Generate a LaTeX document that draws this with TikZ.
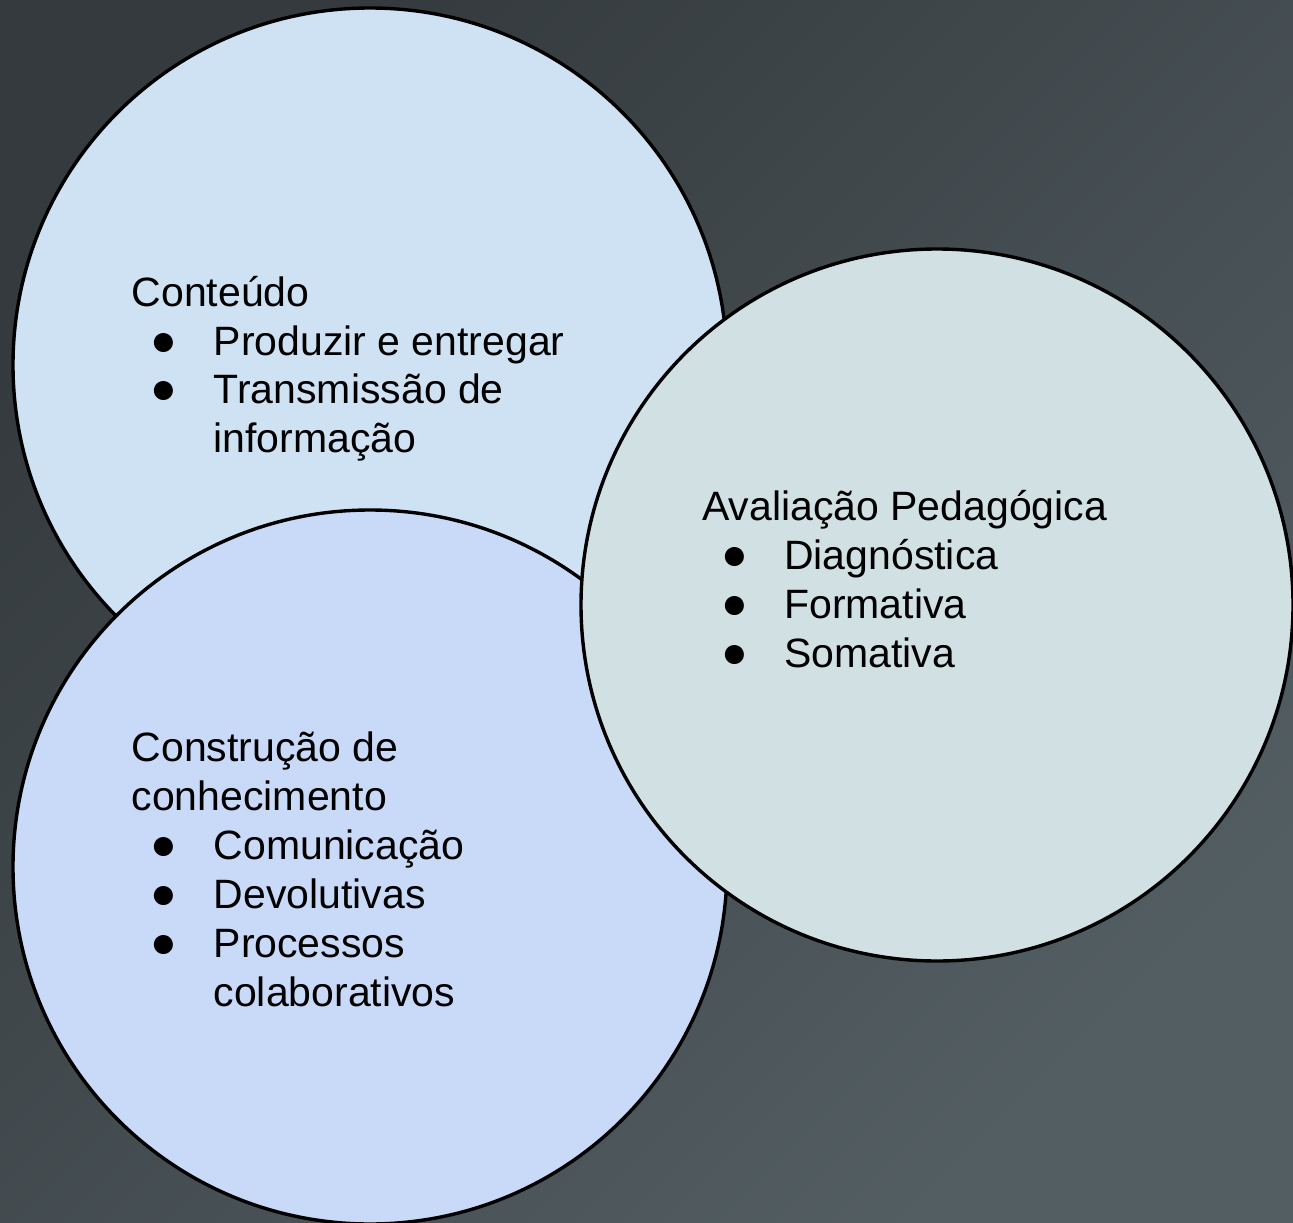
\documentclass[tikz,border=0pt]{standalone}
\usepackage{fontspec}
\setmainfont{Liberation Sans}
\definecolor{bgA}{HTML}{343A3D}
\definecolor{bgB}{HTML}{535E63}
\definecolor{cA}{HTML}{CFE2F3}
\definecolor{cB}{HTML}{C9DAF8}
\definecolor{cC}{HTML}{D0E0E3}
\newcommand{\bul}[1]{\makebox[82pt][l]{\hspace{19pt}\scalebox{1.08}{●}}#1}
\newcommand{\nobul}[1]{\hspace{82pt}#1}
\begin{document}
\begin{tikzpicture}[x=1pt,y=-1pt,
  disc/.style={circle,draw=black,line width=3.4pt,minimum size=714pt,inner sep=0pt},
  txt/.style={anchor=base west,inner sep=0pt,font=\fontsize{41}{49}\selectfont,text=black}]
\useasboundingbox (0,0) rectangle (1293,1223);
\shade[top color=bgA,bottom color=bgB,shading angle=45] (0,0) rectangle (1293,1223);
\node[disc,fill=cA] (c1) at (370,365) {};
\node[disc,fill=cB] (c2) at (370,867) {};
\node[disc,fill=cC,minimum size=712pt] (c3) at (937,605) {};
% Conteudo
\node[txt] (t1) at (131.5,306) {Conteúdo};
\node[txt] (t1a) at (131.5,355) {\bul{Produzir e entregar}};
\node[txt] (t1b) at (131.5,403) {\bul{Transmissão de}};
\node[txt] (t1c) at (131.5,452) {\nobul{informação}};
% Avaliacao
\node[txt] (t3) at (702,520) {Avaliação Pedagógica};
\node[txt] (t3a) at (702,569) {\bul{Diagnóstica}};
\node[txt] (t3b) at (702,618) {\bul{Formativa}};
\node[txt] (t3c) at (702,667) {\bul{Somativa}};
% Construcao
\node[txt] (t2) at (131.5,761) {Construção de};
\node[txt] (t2a) at (131.5,810) {conhecimento};
\node[txt] (t2b) at (131.5,859) {\bul{Comunicação}};
\node[txt] (t2c) at (131.5,908) {\bul{Devolutivas}};
\node[txt] (t2d) at (131.5,957) {\bul{Processos}};
\node[txt] (t2e) at (131.5,1006) {\nobul{colaborativos}};
\end{tikzpicture}
\end{document}
